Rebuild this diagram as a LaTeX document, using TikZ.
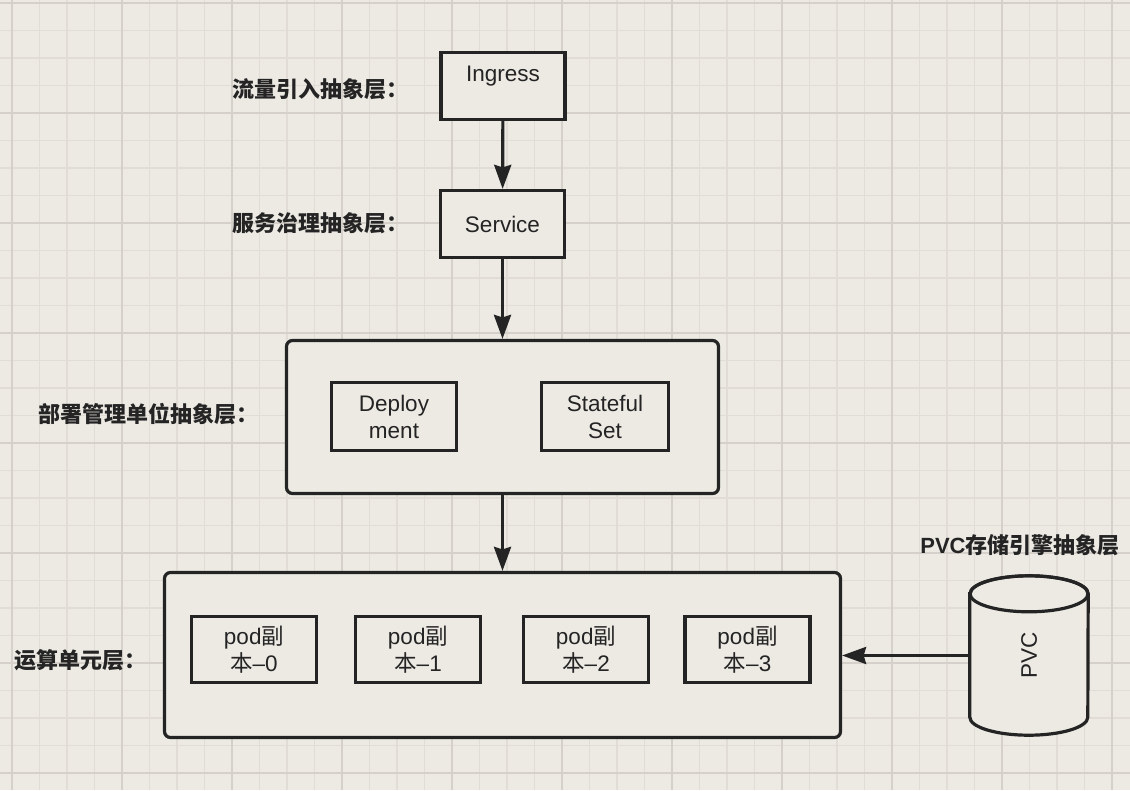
\documentclass[tikz,border=0pt]{standalone}
\usepackage{fontspec}
\setmainfont{Liberation Sans}
\newfontfamily\cjk{Noto Sans CJK SC}
\usetikzlibrary{arrows.meta}
\definecolor{bg}{RGB}{237,234,228}
\definecolor{gminor}{RGB}{225,221,214}
\definecolor{gmajor}{RGB}{213,209,202}
\definecolor{ink}{RGB}{36,36,36}
\begin{document}
\begin{tikzpicture}[x=1pt,y=-1pt,
  boxst/.style={draw=ink, line width=3.2pt, fill=bg, inner sep=0pt, align=center,
    font=\fontsize{22.5}{27}\selectfont, text=ink},
  group/.style={boxst, rounded corners=6pt},
  lbl/.style={inner sep=0pt, anchor=west, text=ink, font=\fontsize{22}{27}\selectfont\bfseries},
  arr/.style={draw=ink, line width=3.2pt, -{Stealth[length=24pt,width=17pt,inset=2.5pt]}}]
\useasboundingbox (0,0) rectangle (1130,790);
\fill[bg] (0,0) rectangle (1130,790);
% grid
\foreach \i in {0,...,40} {
  \pgfmathsetmacro\xx{12+27.5*\i}
  \draw[gminor, line width=1.2pt] (\xx,0) -- (\xx,790);
}
\foreach \i in {0,...,28} {
  \pgfmathsetmacro\yy{3+27.5*\i}
  \draw[gminor, line width=1.2pt] (0,\yy) -- (1130,\yy);
}
\foreach \i in {0,...,10} {
  \pgfmathsetmacro\xx{12+110*\i}
  \draw[gmajor, line width=2pt] (\xx,0) -- (\xx,790);
}
\foreach \i in {0,...,7} {
  \pgfmathsetmacro\yy{3+110*\i}
  \draw[gmajor, line width=2pt] (0,\yy) -- (1130,\yy);
}

% left labels
\node[lbl] (l1) at (232,89) {\cjk\bfseries 流量引入抽象层：};
\node[lbl] (l2) at (232,223) {\cjk\bfseries 服务治理抽象层：};
\node[lbl] (l3) at (38,414) {\cjk\bfseries 部署管理单位抽象层：};
\node[lbl] (l4) at (14,660) {\cjk\bfseries 运算单元层：};
\node[lbl, anchor=center] (l5) at (1020,545) {PVC{\cjk\bfseries 存储引擎抽象层}};

% top boxes
\node[boxst, minimum width=124pt, text height=29pt, text depth=38pt, text width=124pt] (ingress) at (503,86) {Ingress};
\node[boxst, minimum width=124pt, minimum height=67pt] (service) at (502.5,224) {Service};

% deployment group
\node[group, minimum width=432pt, minimum height=153pt] (deploygrp) at (502.5,417) {};
\node[boxst, minimum width=125pt, minimum height=68pt] (deploy) at (394,416.5) {Deploy\\ment};
\node[boxst, minimum width=127pt, minimum height=68pt] (sts) at (605,416.5) {Stateful\\Set};

% pod group
\node[group, minimum width=676pt, minimum height=165pt] (podgrp) at (502.5,655) {};
\node[boxst, minimum width=125pt, minimum height=66pt] (pod0) at (254,649.5) {pod{\cjk 副}\\{\cjk 本}–0};
\node[boxst, minimum width=125pt, minimum height=66pt] (pod1) at (418,649.5) {pod{\cjk 副}\\{\cjk 本}–1};
\node[boxst, minimum width=125pt, minimum height=66pt] (pod2) at (586,649.5) {pod{\cjk 副}\\{\cjk 本}–2};
\node[boxst, minimum width=125pt, minimum height=66pt] (pod3) at (747.5,649.5) {pod{\cjk 副}\\{\cjk 本}–3};

% PVC cylinder
\node[inner sep=0pt, minimum width=118pt, minimum height=123pt] (pvc) at (1029,655.5) {};
\draw[draw=ink, line width=3.2pt, fill=bg]
  (pvc.north west) -- (pvc.south west)
  arc[start angle=180, end angle=360, x radius=59pt, y radius=18pt]
  -- (pvc.north east)
  arc[start angle=0, end angle=180, x radius=59pt, y radius=18pt] -- cycle;
\draw[draw=ink, line width=3.2pt] (pvc.north) ellipse[x radius=59pt, y radius=18pt];
\node[rotate=90, text=ink, font=\fontsize{22.5}{27}\selectfont, inner sep=0pt] (pvclbl) at (pvc.center) {PVC};

% connectors
\draw[arr] (ingress) -- (service);
\draw[arr] (service) -- (deploygrp);
\draw[arr] (deploygrp) -- (podgrp);
\draw[arr] (pvc.west) -- (pvc.west -| podgrp.east);
\end{tikzpicture}
\end{document}
